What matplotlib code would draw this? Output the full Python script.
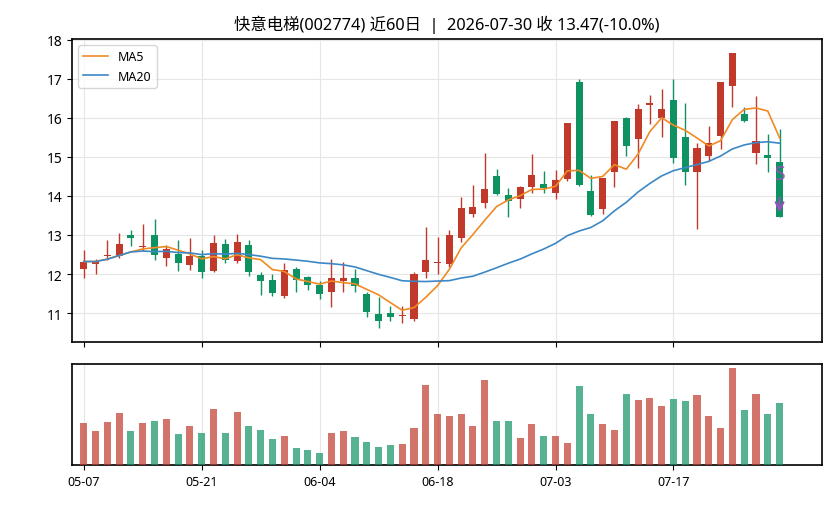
import matplotlib
matplotlib.use("Agg")
import matplotlib.pyplot as plt
import numpy as np
import pandas as pd

plt.rcParams['font.family'] = ['Noto Sans', 'Noto Sans CJK SC', 'DejaVu Sans']

dates = ["05-07", "05-08", "05-11", "05-12", "05-13", "05-14", "05-15", "05-18", "05-19", "05-20",
         "05-21", "05-22", "05-25", "05-26", "05-27", "05-28", "05-29", "06-01", "06-02", "06-03",
         "06-04", "06-05", "06-08", "06-09", "06-10", "06-11", "06-12", "06-15", "06-16", "06-17",
         "06-18", "06-22", "06-23", "06-24", "06-25", "06-26", "06-29", "06-30", "07-01", "07-02",
         "07-03", "07-06", "07-07", "07-08", "07-09", "07-10", "07-13", "07-14", "07-15", "07-16",
         "07-17", "07-20", "07-21", "07-22", "07-23", "07-24", "07-27", "07-28", "07-29", "07-30"]

opens = [12.14, 12.26, 12.46, 12.46, 12.99, 12.68, 12.99, 12.41, 12.51, 12.24,
         12.46, 12.07, 12.76, 12.34, 12.74, 11.97, 11.84, 11.44, 12.12, 11.92,
         11.71, 11.54, 11.83, 11.89, 11.50, 10.97, 11.00, 10.92, 10.85, 12.06,
         12.28, 12.25, 12.93, 13.53, 13.82, 14.50, 14.02, 13.91, 14.23, 14.30,
         14.08, 14.43, 16.93, 14.14, 13.67, 14.61, 15.99, 15.46, 16.32, 15.99,
         16.47, 15.50, 14.61, 15.02, 15.55, 16.81, 16.11, 15.10, 15.06, 14.86]
closes = [12.32, 12.32, 12.50, 12.76, 12.93, 12.70, 12.49, 12.64, 12.29, 12.46,
          12.06, 12.79, 12.35, 12.81, 12.06, 11.83, 11.52, 12.11, 11.85, 11.73,
          11.50, 11.91, 11.91, 11.68, 11.03, 10.80, 10.91, 10.94, 12.01, 12.35,
          12.30, 13.01, 13.68, 13.73, 14.17, 14.05, 13.87, 14.22, 14.53, 14.21,
          14.40, 15.86, 14.28, 13.51, 14.45, 15.91, 15.28, 16.22, 16.39, 16.22,
          14.97, 14.61, 15.24, 15.36, 16.91, 17.67, 15.92, 15.42, 14.97, 13.47]
highs = [12.61, 12.38, 12.87, 13.06, 13.12, 13.27, 13.40, 12.74, 12.87, 12.92,
         12.61, 13.01, 12.91, 13.02, 12.87, 12.04, 12.01, 12.27, 12.19, 11.95,
         11.82, 12.38, 12.32, 12.14, 11.55, 11.40, 11.17, 11.17, 12.04, 13.21,
         12.96, 13.12, 13.98, 14.28, 15.11, 14.70, 14.21, 14.25, 15.08, 14.64,
         14.66, 15.86, 17.00, 14.54, 14.45, 15.91, 16.03, 16.37, 16.60, 16.73,
         17.00, 16.39, 15.36, 15.79, 16.91, 17.67, 16.28, 16.56, 15.59, 15.72]
lows = [11.91, 12.01, 12.35, 12.41, 12.72, 12.59, 12.36, 12.21, 12.08, 12.10,
        11.91, 12.05, 12.29, 12.29, 11.95, 11.47, 11.44, 11.39, 11.53, 11.60,
        11.37, 11.16, 11.53, 11.53, 10.91, 10.61, 10.79, 10.74, 10.79, 11.91,
        12.00, 12.19, 12.81, 13.47, 13.68, 14.02, 13.45, 13.68, 14.08, 14.08,
        13.91, 14.38, 14.25, 13.49, 13.55, 14.24, 15.02, 14.71, 15.85, 15.52,
        14.85, 14.27, 13.15, 14.89, 15.21, 16.28, 15.89, 14.83, 14.62, 13.47]
volumes = [126, 102, 129, 156, 102, 126, 132, 138, 93, 117,
           96, 168, 96, 159, 117, 105, 78, 87, 51, 45,
           36, 96, 102, 84, 69, 54, 60, 63, 111, 240,
           153, 147, 153, 117, 255, 132, 132, 81, 123, 87,
           87, 66, 237, 153, 123, 105, 213, 195, 201, 177,
           198, 192, 210, 147, 111, 291, 165, 213, 153, 186]

signal_index = 59
signal_text = "S"
signal_text_y = 14.57
signal_tip_y = 13.58

title = "快意电梯(002774) 近60日  |  2026-07-30 收 13.47(-10.0%)"

UP = "#c0392b"
DOWN = "#0f9262"

o = np.array(opens); c = np.array(closes); h = np.array(highs); l = np.array(lows)
v = np.array(volumes)
x = np.arange(len(c))
up = c >= o
cols = np.where(up, UP, DOWN)

ma5 = pd.Series(c).rolling(5, min_periods=1).mean()
ma20 = pd.Series(c).rolling(20, min_periods=1).mean()

fig = plt.figure(figsize=(8.36, 5.06), dpi=100)
ax = fig.add_axes([0.0861, 0.3221, 0.8972, 0.5988])
axv = fig.add_axes([0.0861, 0.0791, 0.8972, 0.1996], sharex=ax)

# candles
ax.vlines(x, l, h, colors=cols, linewidth=1.0, zorder=2)
body_bottom = np.minimum(o, c)
body_h = np.maximum(np.abs(c - o), 0.03)
ax.bar(x, body_h, bottom=body_bottom, width=0.6, color=cols, zorder=3, linewidth=0)

ax.plot(x, ma5, color="#f08a24", linewidth=1.2, label="MA5", zorder=4)
ax.plot(x, ma20, color="#3c88c6", linewidth=1.2, label="MA20", zorder=4)

ax.annotate(signal_text, xy=(signal_index, signal_tip_y), xytext=(signal_index, signal_text_y),
            ha="center", va="center", color="#9b4fc0", fontsize=14, fontweight="bold",
            alpha=0.9,
            arrowprops=dict(arrowstyle="->", color="#9b4fc0", lw=1.5, shrinkA=8, shrinkB=0),
            zorder=6)

rng = h.max() - l.min()
ax.set_ylim(l.min() - 0.05 * rng, h.max() + 0.05 * rng)
ax.set_xlim(-1, 62.6)
ax.set_yticks(np.arange(11, 19, 1))
ax.grid(True, color="#e6e6e6", linewidth=0.8, zorder=0)
ax.set_axisbelow(True)
ax.tick_params(axis="x", labelbottom=False)
ax.tick_params(axis="y", labelsize=10)
ax.legend(loc="upper left", fontsize=9, frameon=True, framealpha=0.8, edgecolor="#cccccc")
ax.set_title(title, fontsize=11.8, pad=7)

# volume
axv.bar(x, v, width=0.6, color=cols, alpha=0.7, linewidth=0, zorder=3)
axv.set_ylim(0, v.max() * 1.04)
axv.set_yticks([])
tick_pos = x[::10]
axv.set_xticks(tick_pos)
axv.set_xticklabels([dates[i] for i in tick_pos], fontsize=9)
axv.grid(True, axis="x", color="#e6e6e6", linewidth=0.8, zorder=0)
axv.set_axisbelow(True)

for a in (ax, axv):
    for s in a.spines.values():
        s.set_linewidth(1.2)

fig.savefig("out.png", dpi=100)
